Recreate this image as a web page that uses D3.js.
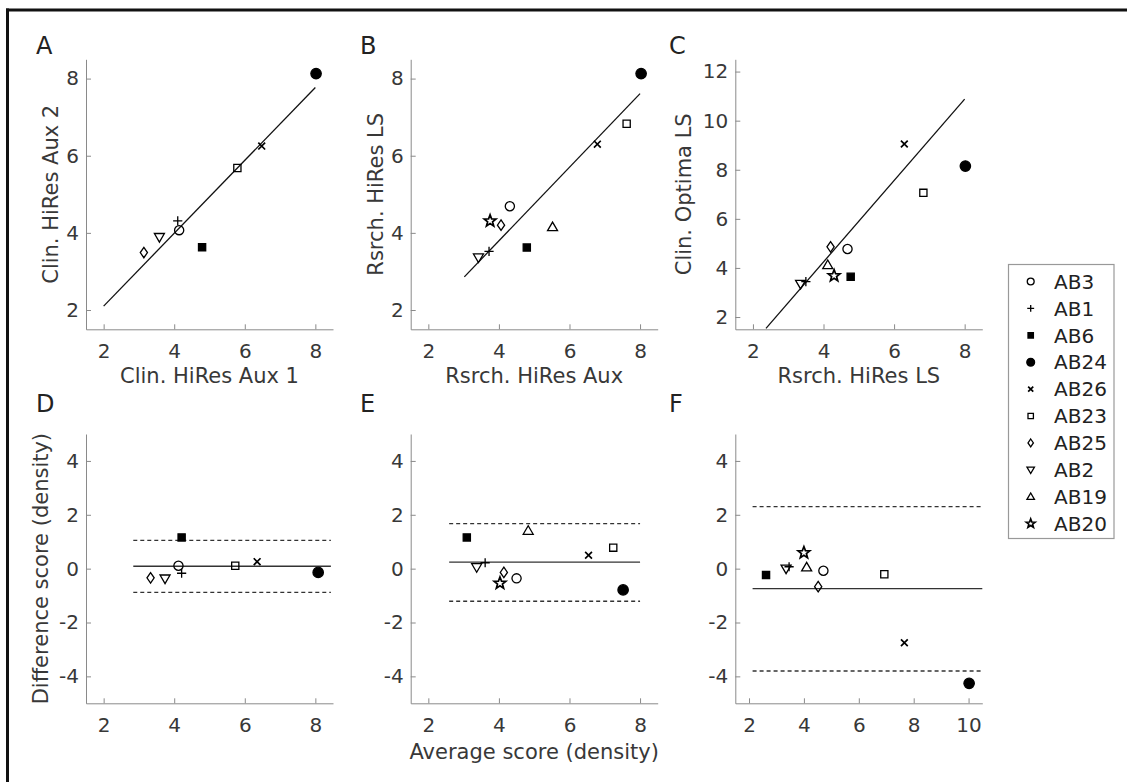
<!DOCTYPE html>
<html lang="en">
<head>
<meta charset="UTF-8">
<title>Density score agreement</title>
<script src="https://d3js.org/d3.v7.min.js"></script>
<style>
  body { margin: 0; background: #fff; }
  svg { display: block; font-family: "DejaVu Sans", Verdana, sans-serif; }
  .axis path, .axis line { stroke: #8a8a8a; stroke-width: 1; }
  .axis text { fill: #383838; font-size: 20px; font-family: "DejaVu Sans", Verdana, sans-serif; }
  .label { fill: #383838; font-size: 21px; }
  .letter { fill: #222; font-size: 24px; }
</style>
</head>
<body>
<svg id="chart" width="1127" height="782"></svg>
<script>
// subjects, in legend order
const subjects = ["AB3", "AB1", "AB6", "AB24", "AB26", "AB23", "AB25", "AB2", "AB19", "AB20"];

// panel A: Clin. HiRes Aux 1 vs Aux 2 (AB19, AB20 missing)
const aX = [4.14, 4.10, 4.79, 8.02, 6.48, 5.79, 3.14, 3.58, null, null];
const aY = [4.07, 4.31, 3.63, 8.13, 6.25, 5.68, 3.49, 3.89, null, null];
const aFit = { x: [2.0, 8.0], y: [2.10, 7.77] };

// panel B: Rsrch. HiRes Aux vs Rsrch. HiRes LS
const bX = [4.31, 3.72, 4.79, 8.03, 6.79, 7.62, 4.06, 3.42, 5.52, 3.75];
const bY = [4.69, 3.52, 3.62, 8.13, 6.30, 6.83, 4.20, 3.36, 4.15, 4.31];
const bFit = { x: [3.02, 8.0], y: [2.86, 7.61] };

// panel C: Rsrch. HiRes LS vs Clin. Optima LS
const cX = [4.68, 3.50, 4.77, 8.02, 6.29, 6.83, 4.20, 3.35, 4.12, 4.30];
const cY = [4.77, 3.44, 3.64, 8.15, 9.05, 7.06, 4.86, 3.35, 4.12, 3.68];
const cFit = { x: [2.37, 8.0], y: [1.54, 10.88] };

// panels D-F: average vs difference
const dX = [4.12, 4.21, 4.21, 8.08, 6.35, 5.73, 3.33, 3.74, null, null];
const dY = [0.11, -0.17, 1.16, -0.14, 0.26, 0.11, -0.34, -0.37, null, null];
const dLimits = { mean: 0.09, upper: 1.05, lower: -0.88, from: 2.84, to: 8.44 };

const eX = [4.50, 3.61, 3.09, 7.52, 6.54, 7.24, 4.14, 3.37, 4.83, 4.03];
const eY = [-0.36, 0.22, 1.16, -0.79, 0.50, 0.78, -0.14, 0.05, 1.41, -0.54];
const eLimits = { mean: 0.24, upper: 1.67, lower: -1.21, from: 2.59, to: 8.0 };

const fX = [4.71, 3.46, 2.62, 10.02, 7.66, 6.93, 4.52, 3.35, 4.10, 4.00];
const fY = [-0.08, 0.07, -0.24, -4.26, -2.75, -0.21, -0.67, 0.00, 0.05, 0.59];
const fLimits = { mean: -0.74, upper: 2.30, lower: -3.80, from: 2.13, to: 10.5 };

// tick values
const ticks2to8 = [2, 4, 6, 8];
const ticks2to12 = [2, 4, 6, 8, 10, 12];
const ticks2to10 = [2, 4, 6, 8, 10];
const ticksDiff = [-4, -2, 0, 2, 4];

const svg = d3.select("#chart");

// frame (top and left edges of the figure border)
svg.append("line").attr("x1", 6).attr("x2", 1127).attr("y1", 10).attr("y2", 10)
  .attr("stroke", "#111").attr("stroke-width", 3);
svg.append("line").attr("x1", 7.5).attr("x2", 7.5).attr("y1", 8.5).attr("y2", 782)
  .attr("stroke", "#111").attr("stroke-width", 3);

// marker shapes by subject
const shapes = {
  AB3: "circle", AB1: "plus", AB6: "fsquare", AB24: "fcircle", AB26: "times",
  AB23: "square", AB25: "diamond", AB2: "tdown", AB19: "tup", AB20: "star"
};

function markerPath(kind, s) {
  const p = d3.path();
  if (kind === "circle" || kind === "fcircle") {
    const r = (kind === "circle" ? 4.6 : 5.2) * s;
    p.moveTo(r, 0); p.arc(0, 0, r, 0, 2 * Math.PI);
  } else if (kind === "plus") {
    const a = 4.6 * s;
    p.moveTo(-a, 0); p.lineTo(a, 0); p.moveTo(0, -a); p.lineTo(0, a);
  } else if (kind === "times") {
    const a = 3.4 * s;
    p.moveTo(-a, -a); p.lineTo(a, a); p.moveTo(-a, a); p.lineTo(a, -a);
  } else if (kind === "square" || kind === "fsquare") {
    const a = 3.6 * s;
    p.rect(-a, -a, 2 * a, 2 * a);
  } else if (kind === "diamond") {
    p.moveTo(0, -5.2 * s); p.lineTo(3.6 * s, 0); p.lineTo(0, 5.2 * s); p.lineTo(-3.6 * s, 0); p.closePath();
  } else if (kind === "tdown") {
    p.moveTo(-5 * s, -3.6 * s); p.lineTo(5 * s, -3.6 * s); p.lineTo(0, 5 * s); p.closePath();
  } else if (kind === "tup") {
    p.moveTo(-5 * s, 3.6 * s); p.lineTo(5 * s, 3.6 * s); p.lineTo(0, -5 * s); p.closePath();
  } else if (kind === "star") {
    for (let i = 0; i < 10; i++) {
      const r = (i % 2 === 0 ? 6.2 : 2.6) * s;
      const ang = -Math.PI / 2 + i * Math.PI / 5;
      if (i === 0) p.moveTo(r * Math.cos(ang), r * Math.sin(ang));
      else p.lineTo(r * Math.cos(ang), r * Math.sin(ang));
    }
    p.closePath();
  }
  return p.toString();
}

function drawMarker(g, kind, x, y, s) {
  const filled = kind === "fcircle" || kind === "fsquare";
  g.append("path")
    .attr("d", markerPath(kind, s))
    .attr("transform", `translate(${x},${y})`)
    .attr("fill", filled ? "#000" : "none")
    .attr("stroke", "#000")
    .attr("stroke-width", kind === "times" || kind === "star" ? 1.7 : 1.3);
}

// panel definitions
const cols = [[86, 333], [410.7, 657.7], [735.3, 982.3]];
const rows = [[59.3, 329.3], [434, 703.3]];

const panels = [
  { letter: "A", col: 0, row: 0, xd: [1.5, 8.5], yd: [1.5, 8.5], xt: ticks2to8, yt: ticks2to8,
    xs: aX, ys: aY, fit: aFit, xlabel: "Clin. HiRes Aux 1", ylabel: "Clin. HiRes Aux 2", yoff: 28 },
  { letter: "B", col: 1, row: 0, xd: [1.5, 8.5], yd: [1.5, 8.5], xt: ticks2to8, yt: ticks2to8,
    xs: bX, ys: bY, fit: bFit, xlabel: "Rsrch. HiRes Aux", ylabel: "Rsrch. HiRes LS", yoff: 28 },
  { letter: "C", col: 2, row: 0, xd: [1.5, 8.5], yd: [1.5, 12.5], xt: ticks2to8, yt: ticks2to12,
    xs: cX, ys: cY, fit: cFit, xlabel: "Rsrch. HiRes LS", ylabel: "Clin. Optima LS", yoff: 44 },
  { letter: "D", col: 0, row: 1, xd: [1.5, 8.5], yd: [-5, 5], xt: ticks2to8, yt: ticksDiff,
    xs: dX, ys: dY, limits: dLimits, ylabel: "Difference score (density)", yoff: 38 },
  { letter: "E", col: 1, row: 1, xd: [1.5, 8.5], yd: [-5, 5], xt: ticks2to8, yt: ticksDiff,
    xs: eX, ys: eY, limits: eLimits, xlabel: "Average score (density)" },
  { letter: "F", col: 2, row: 1, xd: [1.5, 10.5], yd: [-5, 5], xt: ticks2to10, yt: ticksDiff,
    xs: fX, ys: fY, limits: fLimits }
];

panels.forEach(p => {
  const [x0, x1] = cols[p.col];
  const [y0, y1] = rows[p.row];
  const x = d3.scaleLinear().domain(p.xd).range([x0, x1]);
  const y = d3.scaleLinear().domain(p.yd).range([y1, y0]);
  const g = svg.append("g");

  // axes, ticks pointing inward like the original
  g.append("g").attr("class", "axis")
    .attr("transform", `translate(0,${y1})`)
    .call(d3.axisBottom(x).tickValues(p.xt).tickFormat(d => String(d))
      .tickSizeInner(-5).tickSizeOuter(0).tickPadding(15));
  g.append("g").attr("class", "axis")
    .attr("transform", `translate(${x0},0)`)
    .call(d3.axisLeft(y).tickValues(p.yt).tickFormat(d => String(d))
      .tickSizeInner(-5).tickSizeOuter(0).tickPadding(7));

  // fit line or mean / limits of agreement
  if (p.fit) {
    g.append("line")
      .attr("x1", x(p.fit.x[0])).attr("y1", y(p.fit.y[0]))
      .attr("x2", x(p.fit.x[1])).attr("y2", y(p.fit.y[1]))
      .attr("stroke", "#111").attr("stroke-width", 1.3);
  }
  if (p.limits) {
    const L = p.limits;
    [["mean", null], ["upper", "4,3"], ["lower", "4,3"]].forEach(([k, dash]) => {
      g.append("line")
        .attr("x1", x(L.from)).attr("x2", x(L.to))
        .attr("y1", y(L[k])).attr("y2", y(L[k]))
        .attr("stroke", "#333").attr("stroke-width", 1.3)
        .attr("stroke-dasharray", dash);
    });
  }

  // points
  subjects.forEach((s, i) => {
    if (p.xs[i] == null || p.ys[i] == null) return;
    drawMarker(g, shapes[s], x(p.xs[i]), y(p.ys[i]), 1);
  });

  // labels
  if (p.xlabel) {
    g.append("text").attr("class", "label")
      .attr("x", (x0 + x1) / 2).attr("y", y1 + (p.row === 0 ? 54 : 56))
      .attr("text-anchor", "middle").text(p.xlabel);
  }
  if (p.ylabel) {
    g.append("text").attr("class", "label")
      .attr("transform", `translate(${x0 - p.yoff},${(y0 + y1) / 2}) rotate(-90)`)
      .attr("text-anchor", "middle").text(p.ylabel);
  }
  g.append("text").attr("class", "letter")
    .attr("x", [36, 360, 669][p.col]).attr("y", p.row === 0 ? 54 : 412)
    .text(p.letter);
});

// legend
const legend = svg.append("g");
legend.append("rect")
  .attr("x", 1008.5).attr("y", 264.5).attr("width", 105.5).attr("height", 274)
  .attr("fill", "#fff").attr("stroke", "#999").attr("stroke-width", 1.2);
subjects.forEach((s, i) => {
  const cy = 281.5 + i * 26.9;
  drawMarker(legend, shapes[s], 1030.7, cy, 0.75);
  legend.append("text")
    .attr("x", 1054).attr("y", cy).attr("dy", "0.36em")
    .style("font-size", "20px").attr("fill", "#222")
    .text(s);
});
</script>
</body>
</html>
